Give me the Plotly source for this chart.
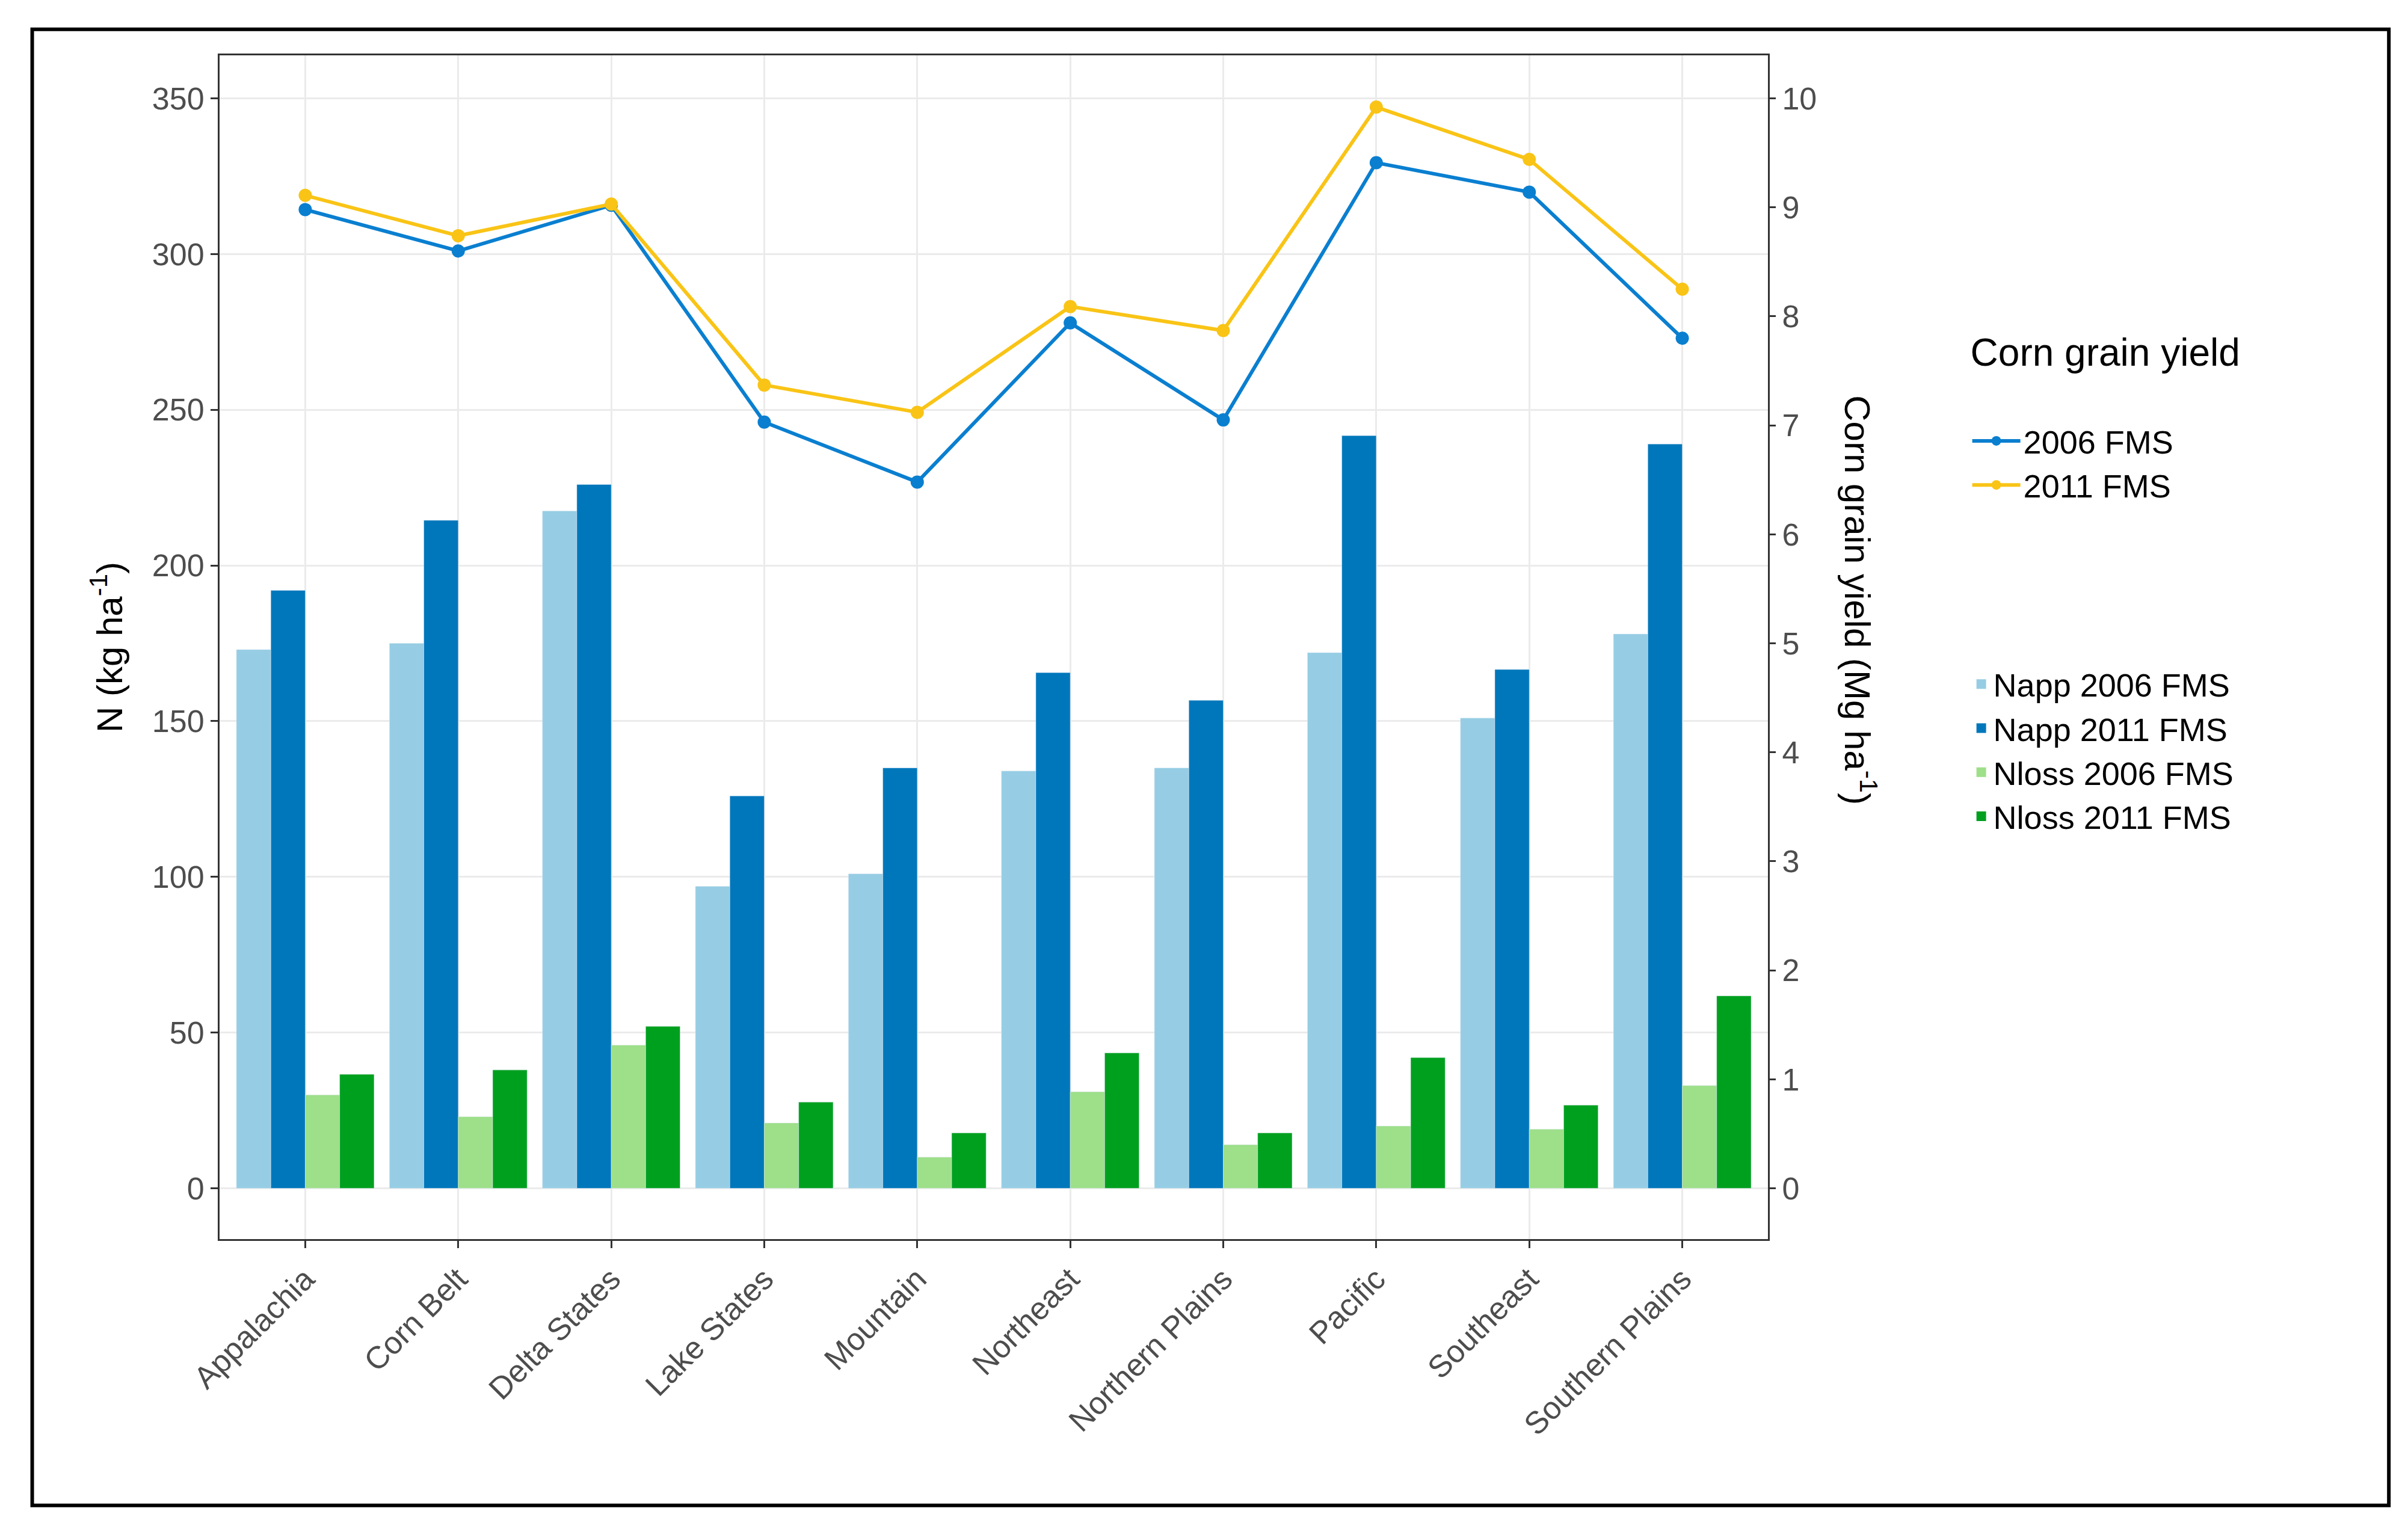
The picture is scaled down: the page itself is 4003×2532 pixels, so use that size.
import plotly.graph_objects as go

regions = ["Appalachia", "Corn Belt", "Delta States", "Lake States", "Mountain",
           "Northeast", "Northern Plains", "Pacific", "Southeast", "Southern Plains"]

napp_2006 = [173, 175, 217.5, 97, 101, 134, 135, 172, 151, 178]
napp_2011 = [192, 214.5, 226, 126, 135, 165.6, 156.7, 241.7, 166.6, 239]
nloss_2006 = [30, 23, 46, 21, 10, 31, 14, 20, 19, 33]
nloss_2011 = [36.6, 38, 52, 27.7, 17.8, 43.5, 17.8, 42, 26.7, 61.8]

yield_2006 = [8.98, 8.6, 9.02, 7.03, 6.48, 7.94, 7.05, 9.41, 9.14, 7.8]
yield_2011 = [9.11, 8.74, 9.03, 7.37, 7.12, 8.09, 7.87, 9.92, 9.44, 8.25]

fig = go.Figure()
bars = [("Napp 2006 FMS", napp_2006, "#96CDE4"),
        ("Napp 2011 FMS", napp_2011, "#0077BB"),
        ("Nloss 2006 FMS", nloss_2006, "#9EDF8A"),
        ("Nloss 2011 FMS", nloss_2011, "#00A01F")]
for name, vals, col in bars:
    fig.add_trace(go.Bar(x=regions, y=vals, name=name, marker_color=col,
                         showlegend=False))
    # legend entry with a big square key
    fig.add_trace(go.Scatter(x=[None], y=[None], name=name, mode="markers",
                             marker=dict(symbol="square", size=100, color=col),
                             legend="legend2"))

lines = [("2006 FMS", yield_2006, "#0A7FD0"), ("2011 FMS", yield_2011, "#F9C416")]
for name, vals, col in lines:
    fig.add_trace(go.Scatter(x=regions, y=vals, name=name, yaxis="y2",
                             mode="lines+markers", line=dict(color=col, width=6),
                             marker=dict(color=col, size=22), legend="legend"))

font = "Liberation Sans, Arial"
fig.update_layout(
    width=4003, height=2532,
    paper_bgcolor="white", plot_bgcolor="white",
    font=dict(family=font, size=52, color="#4d4d4d"),
    margin=dict(l=357, r=1072, t=84, b=480),
    barmode="group", bargap=0.1, bargroupgap=0,
    xaxis=dict(showgrid=True, gridcolor="#ebebeb", gridwidth=3, tickangle=-45,
               showline=True, linecolor="#333", linewidth=3, mirror=True,
               ticks="outside", ticklen=12, tickwidth=3, tickcolor="#333"),
    yaxis=dict(range=[-16.3, 363.8], tickvals=[0, 50, 100, 150, 200, 250, 300, 350],
               showgrid=True, gridcolor="#ebebeb", gridwidth=3, zeroline=False,
               showline=True, linecolor="#333", linewidth=3, mirror=True,
               ticks="outside", ticklen=12, tickwidth=3, tickcolor="#333",
               title=dict(text="N (kg ha<sup>-1</sup>)", standoff=30,
                          font=dict(size=60, color="black"))),
    yaxis2=dict(range=[-0.466, 10.395], overlaying="y", side="right",
                tickvals=list(range(0, 11)), showgrid=False, zeroline=False,
                ticks="outside", ticklen=12, tickwidth=3, tickcolor="#333"),
    legend=dict(x=1.13, y=0.78, xanchor="left", yanchor="top",
                title=dict(text="Corn grain yield<br> ", font=dict(size=64, color="black")),
                font=dict(size=54, color="black"), itemwidth=80),
    legend2=dict(x=1.13, y=0.49, xanchor="left", yanchor="top",
                 font=dict(size=54, color="black"), itemsizing="trace"),
    annotations=[dict(text="Corn grain yield (Mg ha<sup>-1</sup>)", textangle=90,
                      xref="paper", yref="paper", x=1.075, y=0.54,
                      showarrow=False, font=dict(size=60, color="black"))],
    shapes=[dict(type="rect", xref="paper", yref="paper", x0=-0.121, x1=1.401,
                 y0=-0.225, y1=1.022, line=dict(color="black", width=6))],
)

fig.write_html("out.html")
